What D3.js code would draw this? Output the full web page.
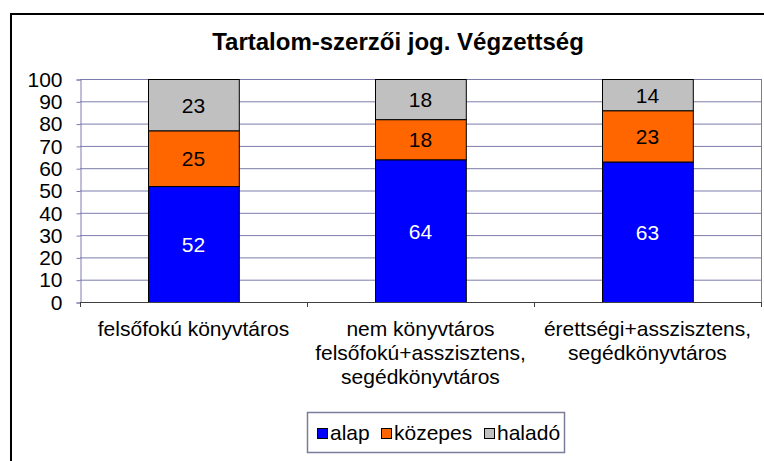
<!DOCTYPE html>
<html>
<head>
<meta charset="utf-8">
<script src="https://cdn.jsdelivr.net/npm/d3@7"></script>
<style>
	body { margin: 0; background: #fff; }
	text { font-family: "Liberation Sans", Arial, sans-serif; }
</style>
</head>
<body>
<svg id="chart" width="764" height="461"></svg>
<script>
var title = "Tartalom-szerzői jog. Végzettség";
var categories = ["felsőfokú könyvtáros", "nem könyvtáros felsőfokú+asszisztens, segédkönyvtáros", "érettségi+asszisztens, segédkönyvtáros"];
var categoryLines = [
	["felsőfokú könyvtáros"],
	["nem könyvtáros", "felsőfokú+asszisztens,", "segédkönyvtáros"],
	["érettségi+asszisztens,", "segédkönyvtáros"]
];
var seriesNames = ["alap", "közepes", "haladó"];
var alap = [52, 64, 63];
var kozepes = [25, 18, 23];
var halado = [23, 18, 14];
var yTicks = [0, 10, 20, 30, 40, 50, 60, 70, 80, 90, 100];
var colors = ["#0000ff", "#ff6600", "#c0c0c0"];
var labelColors = ["#ffffff", "#000000", "#000000"];

var PLOT = {left: 80, right: 761, top: 79, bottom: 302};
var GRID_COLOR = "#7c7cac";
var FONT = 21;

var svg = d3.select("#chart");

// outer chart border (runs off the picture on right and bottom)
svg.append("rect")
	.attr("x", 11).attr("y", 14)
	.attr("width", 800).attr("height", 500)
	.attr("fill", "#fff")
	.attr("stroke", "#000")
	.attr("stroke-width", 2);

svg.append("text")
	.attr("x", 398).attr("y", 50)
	.attr("text-anchor", "middle")
	.attr("font-size", 24)
	.attr("font-weight", "bold")
	.text(title);

var x = d3.scaleBand()
	.domain(categories)
	.range([PLOT.left, PLOT.right])
	.paddingInner(0.6)
	.paddingOuter(0.3);
var xOuter = d3.scaleBand().domain(categories).range([PLOT.left, PLOT.right]);

var y = d3.scaleLinear().domain([0, 100]).range([PLOT.bottom, PLOT.top]);

// gridlines
svg.append("g")
	.selectAll("line")
	.data(yTicks.filter(function(d) { return d > 0; }))
	.enter().append("line")
		.attr("x1", PLOT.left).attr("x2", PLOT.right)
		.attr("y1", function(d) { return y(d) + 0.5; })
		.attr("y2", function(d) { return y(d) + 0.5; })
		.attr("stroke", GRID_COLOR)
		.attr("stroke-width", 1);

svg.append("line")
	.attr("x1", PLOT.right + 0.5).attr("x2", PLOT.right + 0.5)
	.attr("y1", PLOT.top).attr("y2", PLOT.bottom)
	.attr("stroke", GRID_COLOR);

// y axis
var yAxis = d3.axisLeft(y).tickValues(yTicks).tickSize(4).tickPadding(14);
var gy = svg.append("g")
	.attr("transform", "translate(" + (PLOT.left + 0.5) + ",0.5)")
	.call(yAxis);
gy.select(".domain").attr("stroke", GRID_COLOR);
gy.selectAll(".tick line").attr("stroke", GRID_COLOR);
gy.selectAll(".tick text")
	.attr("font-size", FONT)
	.attr("font-family", "Liberation Sans, Arial, sans-serif")
	.attr("fill", "#000");

// stacked bars
var rows = categories.map(function(c, i) {
	return {cat: c, alap: alap[i], "közepes": kozepes[i], "haladó": halado[i]};
});
var stack = d3.stack().keys(seriesNames)(rows);

var layers = svg.append("g")
	.selectAll("g")
	.data(stack)
	.enter().append("g")
		.attr("fill", function(d, i) { return colors[i]; });

layers.selectAll("rect")
	.data(function(d) { return d; })
	.enter().append("rect")
		.attr("x", function(d) { return Math.round(x(d.data.cat)) + 0.5; })
		.attr("y", function(d) { return y(d[1]) + 0.5; })
		.attr("width", x.bandwidth())
		.attr("height", function(d) { return y(d[0]) - y(d[1]); })
		.attr("stroke", "#000")
		.attr("stroke-width", 1);

layers.each(function(layer, i) {
	d3.select(this).selectAll("text")
		.data(layer)
		.enter().append("text")
			.attr("x", function(d) { return x(d.data.cat) + x.bandwidth() / 2; })
			.attr("y", function(d) { return (y(d[0]) + y(d[1])) / 2 + 8; })
			.attr("text-anchor", "middle")
			.attr("font-size", FONT)
			.attr("fill", labelColors[i])
			.text(function(d) { return d[1] - d[0]; });
});

// x axis
svg.append("line")
	.attr("x1", PLOT.left).attr("x2", PLOT.right + 1)
	.attr("y1", PLOT.bottom + 0.5).attr("y2", PLOT.bottom + 0.5)
	.attr("stroke", "#404040");

var catTicks = categories.map(function(c) { return xOuter(c); }).concat([PLOT.right]);
svg.append("g")
	.selectAll("line")
	.data(catTicks)
	.enter().append("line")
		.attr("x1", function(d) { return Math.round(d) + 0.5; })
		.attr("x2", function(d) { return Math.round(d) + 0.5; })
		.attr("y1", PLOT.bottom).attr("y2", PLOT.bottom + 5)
		.attr("stroke", "#404040");

var catLabels = svg.append("g")
	.selectAll("text")
	.data(categories)
	.enter().append("text")
		.attr("text-anchor", "middle")
		.attr("font-size", FONT)
		.attr("fill", "#000");
catLabels.each(function(c, i) {
	var t = d3.select(this);
	categoryLines[i].forEach(function(line, j) {
		t.append("tspan")
			.attr("x", xOuter(c) + xOuter.bandwidth() / 2)
			.attr("y", 336 + j * 24)
			.text(line);
	});
});

// legend
var legend = svg.append("g").attr("transform", "translate(307,412)");
legend.append("rect")
	.attr("x", 0.5).attr("y", 0.5)
	.attr("width", 257).attr("height", 40)
	.attr("fill", "#fff")
	.attr("stroke", "#7c7c9c")
	.attr("stroke-width", 1.5);

var legendX = [10, 74, 177];
var items = legend.selectAll("g.item")
	.data(seriesNames)
	.enter().append("g")
		.attr("class", "item")
		.attr("transform", function(d, i) { return "translate(" + legendX[i] + ",0)"; });
items.append("rect")
	.attr("x", 0.5).attr("y", 16.5)
	.attr("width", 10).attr("height", 10)
	.attr("fill", function(d, i) { return colors[i]; })
	.attr("stroke", "#000");
items.append("text")
	.attr("x", 13).attr("y", 28)
	.attr("font-size", FONT)
	.text(function(d) { return d; });
</script>
</body>
</html>
